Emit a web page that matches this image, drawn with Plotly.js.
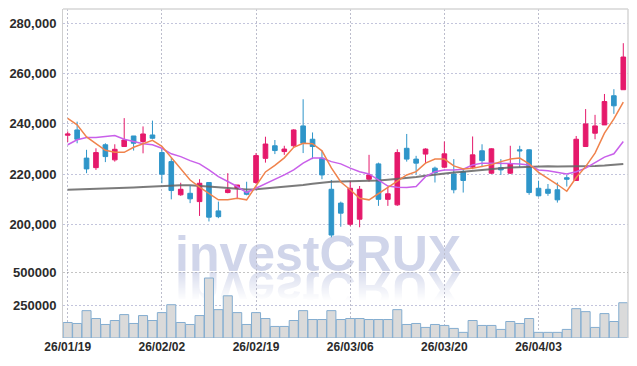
<!DOCTYPE html>
<html><head><meta charset="utf-8">
<script src="https://cdn.plot.ly/plotly-3.0.1.min.js"></script>
<style>
html,body{margin:0;padding:0;background:#fff;}
#wrap{position:relative;width:637px;height:366px;overflow:hidden;}
#wm1{position:absolute;left:175px;top:237px;font-family:'Liberation Sans',Arial,sans-serif;font-weight:bold;font-size:50px;line-height:34px;height:34px;color:#d0d5ea;white-space:nowrap;
 -webkit-box-reflect:below 1px linear-gradient(rgba(0,0,0,0) 15%, rgba(255,255,255,0.8));}
#chart{position:absolute;left:0;top:0;width:637px;height:366px;}
</style></head>
<body>
<div id="wrap">
<div id="wm1">investCRUX</div>
<div id="chart"></div>
</div>
<script>
var dates = ["26/01/19","26/01/20","26/01/21","26/01/22","26/01/23","26/01/26","26/01/27","26/01/28","26/01/29","26/01/30",
"26/02/02","26/02/03","26/02/04","26/02/05","26/02/06","26/02/09","26/02/10","26/02/11","26/02/12","26/02/13",
"26/02/19","26/02/20","26/02/23","26/02/24","26/02/25","26/02/26","26/02/27","26/03/03","26/03/04","26/03/05",
"26/03/06","26/03/09","26/03/10","26/03/11","26/03/12","26/03/13","26/03/16","26/03/17","26/03/18","26/03/19",
"26/03/20","26/03/23","26/03/24","26/03/25","26/03/26","26/03/27","26/03/30","26/03/31","26/04/01","26/04/02",
"26/04/03","26/04/06","26/04/07","26/04/08","26/04/09","26/04/10","26/04/13","26/04/14","26/04/15","26/04/16"];
var tickDates = ["26/01/19","26/02/02","26/02/19","26/03/06","26/03/20","26/04/03"];

var openP = [235500,237600,226400,222600,231700,225700,231000,235200,233000,235600,
228600,225000,211800,212400,209100,216700,205400,212700,214400,213000,
216700,226300,231300,229000,231300,239200,233900,226400,214000,208500,
200100,202100,218000,224100,210000,207800,230300,226000,228000,222400,
222800,220100,221000,222800,229300,220400,222600,220400,229700,229700,
214400,214000,213800,218600,217500,231000,236300,239600,251200,253600];
var highP = [237000,240900,229700,230300,232300,231900,242300,235200,239000,241300,
229900,226400,216600,215300,218000,216700,209100,220400,215700,217000,
228400,234900,233600,231300,237900,249800,236600,229400,217700,209100,
217400,215300,227700,224600,215100,229900,236000,227300,230300,223000,
233000,226000,222400,235000,231900,230300,226000,231300,231300,229900,
217400,216100,216700,219700,235200,245900,243600,251900,253800,272100];
var lowP = [232800,232300,220400,221700,224800,225000,231000,229400,228300,233900,
216400,210000,211400,208500,203400,201200,202500,212400,210500,211600,
216100,224600,228000,227700,230700,228400,226000,218000,194900,199100,
199400,198900,217000,207400,207400,207400,225000,219900,224400,216700,
222400,212400,212700,222000,222800,220100,219700,220100,222800,211800,
211100,211400,208700,215100,217500,231000,233900,239600,244000,253600];
var closeP = [236000,233900,222100,228600,227000,229900,233600,232300,236000,234300,
220000,213500,214000,210200,216400,202900,203100,213800,215700,212000,
227400,232000,229400,230000,237600,232300,231000,219700,195800,204500,
214400,214000,219700,210000,212200,228600,226000,224400,230000,220600,
228100,213800,217500,227700,225400,230100,221700,224100,229300,212700,
211400,212400,209800,218000,233900,240000,239200,248900,247200,266600];

var ma5 = [242200,239600,234800,232100,229500,228700,228700,230700,232100,233500,
231100,226700,222100,217700,214900,212200,209800,209800,210400,209800,
215300,220900,223500,226500,230700,232300,232100,229300,222500,216900,
213800,210400,209800,212200,214900,217300,219700,221000,224400,226000,
226000,223300,222100,222400,223000,223800,225000,226000,226400,224100,
220700,218400,215900,213200,218700,223000,228400,236300,242000,248700];
var ma20 = [231700,233700,234600,234600,235000,235400,233900,233000,232100,231700,
230300,228100,227000,225400,224100,221700,219000,217100,215100,212700,
214400,216100,217700,219700,221700,224400,226400,226400,225000,224100,
222400,221000,220100,217700,215300,214800,214700,215100,219000,221000,
221700,221700,222000,223700,224400,224400,224400,224100,224100,223700,
221700,221400,220600,220100,221000,222400,224600,226800,228100,233000];
var ma60 = [213800,213900,214000,214100,214200,214300,214500,214700,214900,215100,
215300,215500,215600,215600,215400,215100,214800,214500,214100,213900,
214000,214300,214700,215100,215400,215700,216200,216700,217000,217100,
217200,217200,217300,217500,217800,218100,218400,218900,219400,219900,
220300,220700,221000,221400,221700,222000,222400,222700,222900,223100,
223200,223200,223100,223100,223100,223200,223300,223500,223800,224100];
var volume = [117500,110000,207300,147500,102500,132500,177400,110000,170000,132500,
192400,252200,117500,102500,170000,454300,214800,319600,192400,102500,
192400,147500,87600,87600,132500,207300,140000,140000,207300,140000,
147500,147500,140000,140000,140000,214800,102500,110000,80100,102500,
95100,72600,42700,132500,95100,95100,65100,125000,110000,147500,
42700,42700,42700,65100,222300,199800,80100,184900,125000,267200];

var priceTicks = [200000,220000,240000,260000,280000];
var volTicks = [250000,500000];
var volTickText = ["250000","500000"];

var upColor = '#e5196b', downColor = '#2e95c9';

var traces = [
  {type:'bar', x:dates, y:volume, xaxis:'x', yaxis:'y2',
   marker:{color:'#dadada', line:{color:'#84add0', width:1}}, hoverinfo:'skip'},
  {type:'candlestick', x:dates, open:openP, high:highP, low:lowP, close:closeP,
   xaxis:'x', yaxis:'y',
   increasing:{line:{color:upColor, width:1}, fillcolor:upColor},
   decreasing:{line:{color:downColor, width:1}, fillcolor:downColor},
   hoverinfo:'skip'},
  {type:'scatter', mode:'lines', x:dates, y:ma60, xaxis:'x', yaxis:'y',
   line:{color:'rgba(100,100,100,0.85)', width:2}, hoverinfo:'skip'},
  {type:'scatter', mode:'lines', x:dates, y:ma20, xaxis:'x', yaxis:'y',
   line:{color:'#c960ea', width:1.5}, hoverinfo:'skip'},
  {type:'scatter', mode:'lines', x:dates, y:ma5, xaxis:'x', yaxis:'y',
   line:{color:'#f0834c', width:1.5}, hoverinfo:'skip'}
];

var volFrac = 66/329;
var gridDash = '2px,2px';
var layout = {
  width:637, height:366,
  margin:{l:63, r:9, t:9, b:28},
  paper_bgcolor:'rgba(0,0,0,0)', plot_bgcolor:'rgba(0,0,0,0)',
  showlegend:false,
  bargap:0.04,
  font:{family:'Liberation Sans, Arial, sans-serif', size:12, color:'#2b2b2b'},
  xaxis:{type:'category', range:[-0.5,59.5], anchor:'y2',
    tickvals:tickDates, ticktext:tickDates,
    showgrid:true, gridcolor:'#bcbdcc', griddash:gridDash, gridwidth:1,
    showline:false, zeroline:false, ticks:'',
    rangeslider:{visible:false},
    tickfont:{size:12, weight:'bold', color:'#2b2b2b'}},
  yaxis:{domain:[volFrac,1], range:[181100,285700],
    tickvals:priceTicks, tickformat:',',
    showgrid:true, gridcolor:'#c3c5dc', griddash:gridDash, gridwidth:1,
    showline:true, linecolor:'#cfcfcf', linewidth:1, zeroline:false,
    ticks:'outside', ticklen:3, tickcolor:'rgba(0,0,0,0)',
    tickfont:{size:13, weight:'bold', color:'#2b2b2b'}},
  yaxis2:{domain:[0,volFrac], range:[0,500000],
    tickvals:volTicks, ticktext:volTickText,
    showgrid:true, gridcolor:'#c3c5dc', griddash:gridDash, gridwidth:1,
    showline:true, linecolor:'#cfcfcf', linewidth:1, zeroline:false,
    ticks:'outside', ticklen:3, tickcolor:'rgba(0,0,0,0)',
    tickfont:{size:13, weight:'bold', color:'#2b2b2b'}},
  shapes:[
    {type:'line', xref:'paper', yref:'paper', x0:0, x1:1, y0:1, y1:1, line:{color:'#d6d6d6', width:1.5}},
    {type:'line', xref:'paper', yref:'paper', x0:1, x1:1, y0:0, y1:1, line:{color:'#d6d6d6', width:1.5}},
    {type:'line', xref:'paper', yref:'y2', x0:0, x1:1, y0:500000, y1:500000, line:{color:'#8a8a8a', width:1, dash:gridDash}}
  ]
};

Plotly.newPlot('chart', traces, layout, {staticPlot:true, displayModeBar:false});
</script>
</body></html>
